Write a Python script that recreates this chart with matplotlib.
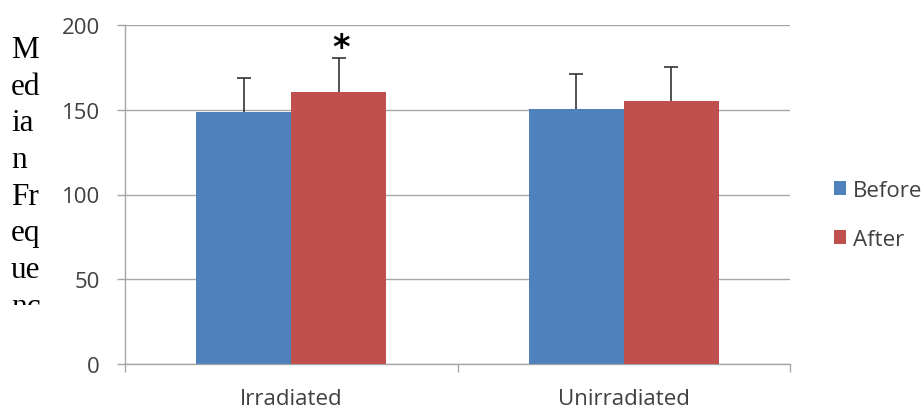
import matplotlib
matplotlib.use("Agg")
import matplotlib.pyplot as plt
import numpy as np
from matplotlib.transforms import Bbox

categories = ["Irradiated", "Unirradiated"]
series_names = ["Before", "After"]
before_vals = [148.7, 150.3]
after_vals = [160.3, 155.2]
before_err = [20.2, 20.5]
after_err = [20.0, 20.0]
y_ticks = [0, 50, 100, 150, 200]
ylabel_lines = ["M", "ed", "ia", "n", "Fr", "eq", "ue", "nc"]

blue = "#4F81BD"
red = "#C0504D"
grid_c = "#A6A6A6"
text_c = "#404040"
tick_font = "Open Sans"

fig = plt.figure(figsize=(9.24, 4.10), dpi=100)
ax = fig.add_axes([125/924, 45/410, (790-125)/924, (365-26)/410])

x = np.arange(len(categories))
w = 0.286
off = w / 2
ax.bar(x - off, before_vals, w, color=blue, label=series_names[0], zorder=3)
ax.bar(x + off, after_vals, w, color=red, label=series_names[1], zorder=3)
ek = dict(ecolor="#333333", elinewidth=1.2, capsize=4.7, capthick=1.2, fmt="none", zorder=4)
for xs, vals, errs in [(x - off, before_vals, before_err), (x + off, after_vals, after_err)]:
    eb = ax.errorbar(xs, vals, yerr=[np.zeros(len(vals)), errs], **ek)
    caps = eb[1]
    if len(caps) == 2:
        caps[0].set_visible(False)

ax.text(x[0] + off + 0.006, 187, "*", ha="center", va="center", fontsize=24,
        fontweight="bold", color="black", family="DejaVu Sans")

ax.set_xlim(-0.5, 1.5)
ax.set_ylim(0, 200)
ax.set_yticks(y_ticks)
ax.set_yticklabels([str(v) for v in y_ticks])
ax.set_xticks(x)
ax.set_xticklabels(categories)
ax.set_xticks([-0.5, 0.5, 1.5], minor=True)
ax.tick_params(axis="x", which="major", length=0, pad=17, labelsize=16, labelcolor=text_c)
ax.tick_params(axis="x", which="minor", length=6, color=grid_c, width=1)
ax.tick_params(axis="y", length=6, color=grid_c, width=1, pad=12, labelsize=16, labelcolor=text_c)
for lab in ax.get_xticklabels() + ax.get_yticklabels():
    lab.set_family(tick_font)

ax.yaxis.grid(True, color=grid_c, linewidth=1, zorder=0)
ax.set_axisbelow(True)
for s in ["top", "right"]:
    ax.spines[s].set_visible(False)
for s in ["left", "bottom"]:
    ax.spines[s].set_color(grid_c)
    ax.spines[s].set_linewidth(1)

leg = fig.legend(loc="upper left", bbox_to_anchor=(825/924, 1 - 172/410), frameon=False,
                 prop={"family": tick_font, "size": 16}, handlelength=0.55, handleheight=0.55,
                 handletextpad=0.3, labelspacing=1.25, borderaxespad=0)
for t in leg.get_texts():
    t.set_color(text_c)

clip = Bbox.from_extents(0, 410 - 306, 60, 410)
for i, line in enumerate(ylabel_lines):
    yb = 58 + i * 36.7
    t = fig.text(11/924, 1 - yb/410, line, ha="left", va="baseline", fontsize=22.5,
                 family="Liberation Serif", color="black")
    t.set_clip_box(clip)
    t.set_clip_on(True)

fig.savefig("out.png", dpi=100)
